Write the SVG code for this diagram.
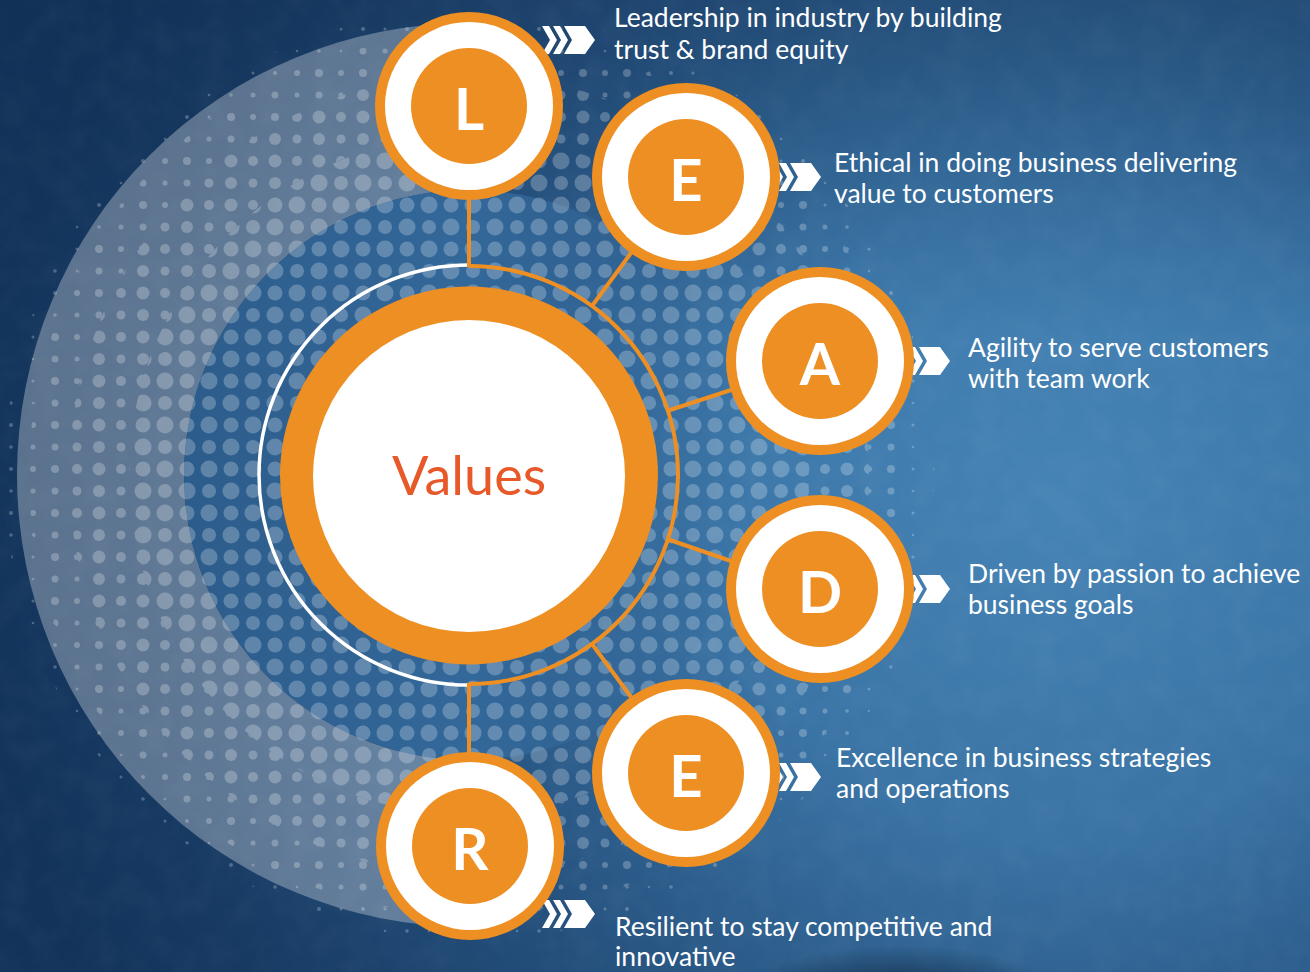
<svg xmlns="http://www.w3.org/2000/svg" width="1310" height="972" viewBox="0 0 1310 972">
<defs>
<style>
.org{fill:#EE8F23}
.wht{fill:#FFFFFF}
.lbl{font-family:Lato,"Liberation Sans",sans-serif;font-size:26.5px;fill:#FFFFFF}
.ltr{font-family:Lato,"Liberation Sans",sans-serif;font-size:58px;font-weight:700;fill:#FFFFFF;text-anchor:middle}
.val{font-family:Lato,"Liberation Sans",sans-serif;font-size:54px;fill:#E8592A;text-anchor:middle}
.con{stroke:#EE8F23;stroke-width:4;fill:none}
.dot{fill:#FFFFFF;fill-opacity:0.24}
</style>
<radialGradient id="bg" cx="1060" cy="520" r="1080" gradientUnits="userSpaceOnUse">
<stop offset="0" stop-color="#4886B8"/>
<stop offset="0.3" stop-color="#3D79AB"/>
<stop offset="0.6" stop-color="#275482"/>
<stop offset="0.85" stop-color="#183C65"/>
<stop offset="1" stop-color="#13345B"/>
</radialGradient>
<linearGradient id="topShade" x1="0" y1="0" x2="0" y2="1">
<stop offset="0" stop-color="#102C50" stop-opacity="0.35"/>
<stop offset="0.35" stop-color="#102C50" stop-opacity="0"/>
<stop offset="1" stop-color="#102C50" stop-opacity="0.1"/>
</linearGradient>
<linearGradient id="innerFill" x1="184" y1="0" x2="754" y2="0" gradientUnits="userSpaceOnUse">
<stop offset="0" stop-color="#2C5C8B" stop-opacity="1"/>
<stop offset="0.5" stop-color="#33689A" stop-opacity="1"/>
<stop offset="1" stop-color="#33689A" stop-opacity="0"/>
</linearGradient>
<radialGradient id="vign" cx="0.5" cy="0.5" r="0.5">
<stop offset="0" stop-color="#0A1E36" stop-opacity="0.9"/>
<stop offset="1" stop-color="#0A1E36" stop-opacity="0"/>
</radialGradient>
<filter id="grain" x="0" y="0" width="100%" height="100%">
<feTurbulence type="fractalNoise" baseFrequency="0.035" numOctaves="3" seed="4"/>
<feColorMatrix type="matrix" values="0 0 0 0 1  0 0 0 0 1  0 0 0 0 1  0 0 0 0.5 -0.18"/>
</filter>
<pattern id="dL" width="44" height="44" patternUnits="userSpaceOnUse" x="0" y="-4">
<g class="dot"><circle cx="11" cy="11" r="8.5"/><circle cx="33" cy="11" r="7"/><circle cx="11" cy="33" r="7.5"/><circle cx="33" cy="33" r="8.5"/></g>
</pattern>
<pattern id="dM" width="44" height="44" patternUnits="userSpaceOnUse" x="0" y="-4">
<g class="dot"><circle cx="11" cy="11" r="6"/><circle cx="33" cy="11" r="4.5"/><circle cx="11" cy="33" r="6.5"/><circle cx="33" cy="33" r="5"/></g>
</pattern>
<pattern id="dS" width="44" height="44" patternUnits="userSpaceOnUse" x="0" y="-4">
<g class="dot"><circle cx="11" cy="11" r="3.5"/><circle cx="33" cy="11" r="2.5"/><circle cx="11" cy="33" r="4"/><circle cx="33" cy="33" r="3"/></g>
</pattern>
<pattern id="dX" width="44" height="44" patternUnits="userSpaceOnUse" x="0" y="-4">
<g class="dot"><circle cx="11" cy="11" r="1.8"/><circle cx="33" cy="11" r="1.3"/><circle cx="11" cy="33" r="2"/><circle cx="33" cy="33" r="1.5"/></g>
</pattern>
<clipPath id="cL"><circle cx="469" cy="475" r="340"/></clipPath>
<clipPath id="cM"><path clip-rule="evenodd" d="M129,475a340,340 0 1,0 680,0a340,340 0 1,0 -680,0ZM69,475a400,400 0 1,0 800,0a400,400 0 1,0 -800,0Z"/></clipPath>
<clipPath id="cS"><path clip-rule="evenodd" d="M69,475a400,400 0 1,0 800,0a400,400 0 1,0 -800,0ZM29,475a440,440 0 1,0 880,0a440,440 0 1,0 -880,0Z"/></clipPath>
<clipPath id="cX"><path clip-rule="evenodd" d="M29,475a440,440 0 1,0 880,0a440,440 0 1,0 -880,0ZM4,475a465,465 0 1,0 930,0a465,465 0 1,0 -930,0Z"/></clipPath>
<g id="chevs">
<polygon points="-53,-14 -46,-14 -38,0 -46,14 -53,14 -45,0"/>
<polygon points="-42,-14 -35,-14 -27,0 -35,14 -42,14 -34,0"/>
<polygon points="-31,-14 -10,-14 0,0 -10,14 -31,14 -23,0"/>
</g>
</defs>

<g id="background">
<rect x="0" y="0" width="1310" height="972" fill="url(#bg)"/>
<rect x="0" y="0" width="1310" height="972" fill="url(#topShade)"/>
<rect x="0" y="0" width="1310" height="972" filter="url(#grain)" opacity="0.12"/>
<ellipse cx="900" cy="1005" rx="170" ry="60" fill="url(#vign)"/>
<path d="M469,23 A452,452 0 0,0 469,927 L469,760 A285,285 0 0,1 469,190 Z" fill="#FFFFFF" fill-opacity="0.3"/>
<circle cx="469" cy="475" r="285" fill="url(#innerFill)"/>
<rect x="0" y="0" width="1310" height="972" fill="url(#dL)" clip-path="url(#cL)"/>
<rect x="0" y="0" width="1310" height="972" fill="url(#dM)" clip-path="url(#cM)"/>
<rect x="0" y="0" width="1310" height="972" fill="url(#dS)" clip-path="url(#cS)"/>
<rect x="0" y="0" width="1310" height="972" fill="url(#dX)" clip-path="url(#cX)"/>
</g>

<g id="connectors">
<path d="M469,265 A210,210 0 0,0 469,685" fill="none" stroke="#FFFFFF" stroke-width="3.5"/>
<path class="con" d="M469,266 A209,209 0 0,1 469,684"/>
<line class="con" x1="469" y1="198" x2="469" y2="267"/>
<line class="con" x1="592" y1="306" x2="631" y2="253"/>
<line class="con" x1="667" y1="411" x2="731" y2="390"/>
<line class="con" x1="667" y1="539" x2="731" y2="561"/>
<line class="con" x1="592" y1="644" x2="631" y2="697"/>
<line class="con" x1="469" y1="683" x2="469" y2="754"/>
</g>

<g id="node-values">
<circle class="org" cx="469" cy="475.5" r="189"/>
<circle class="wht" cx="469" cy="476" r="156"/>
<text class="val" x="469" y="495">Values</text>
</g>

<g id="node-L">
<use href="#chevs" fill="#FFFFFF" x="595" y="40"/>
<circle class="org" cx="469" cy="106" r="94"/>
<circle class="wht" cx="469" cy="106" r="84"/>
<circle class="org" cx="469" cy="106" r="58"/>
<text class="ltr" x="469" y="130">L</text>
<text class="lbl" x="614" y="27">Leadership in industry by building</text>
<text class="lbl" x="614" y="59">trust &amp; brand equity</text>
</g>

<g id="node-E1">
<use href="#chevs" fill="#FFFFFF" x="821" y="177"/>
<circle class="org" cx="686" cy="177" r="94"/>
<circle class="wht" cx="686" cy="177" r="84"/>
<circle class="org" cx="686" cy="177" r="58"/>
<text class="ltr" x="686" y="201">E</text>
<text class="lbl" x="834" y="172">Ethical in doing business delivering</text>
<text class="lbl" x="834" y="203">value to customers</text>
</g>

<g id="node-A">
<use href="#chevs" fill="#FFFFFF" x="950" y="361"/>
<circle class="org" cx="820" cy="361" r="94"/>
<circle class="wht" cx="820" cy="361" r="84"/>
<circle class="org" cx="820" cy="361" r="58"/>
<text class="ltr" x="820" y="385">A</text>
<text class="lbl" x="968" y="357">Agility to serve customers</text>
<text class="lbl" x="968" y="388">with team work</text>
</g>

<g id="node-D">
<use href="#chevs" fill="#FFFFFF" x="950" y="589"/>
<circle class="org" cx="820" cy="589" r="94"/>
<circle class="wht" cx="820" cy="589" r="84"/>
<circle class="org" cx="820" cy="589" r="58"/>
<text class="ltr" x="820" y="613">D</text>
<text class="lbl" x="968" y="583">Driven by passion to achieve</text>
<text class="lbl" x="968" y="614">business goals</text>
</g>

<g id="node-E2">
<use href="#chevs" fill="#FFFFFF" x="821" y="777"/>
<circle class="org" cx="686" cy="773" r="94"/>
<circle class="wht" cx="686" cy="773" r="84"/>
<circle class="org" cx="686" cy="773" r="58"/>
<text class="ltr" x="686" y="797">E</text>
<text class="lbl" x="836" y="767">Excellence in business strategies</text>
<text class="lbl" x="836" y="798">and operations</text>
</g>

<g id="node-R">
<use href="#chevs" fill="#FFFFFF" x="595" y="914"/>
<circle class="org" cx="470" cy="846" r="94"/>
<circle class="wht" cx="470" cy="846" r="84"/>
<circle class="org" cx="470" cy="846" r="58"/>
<text class="ltr" x="470" y="870">R</text>
<text class="lbl" x="615" y="936">Resilient to stay competitive and</text>
<text class="lbl" x="615" y="966">innovative</text>
</g>
</svg>
